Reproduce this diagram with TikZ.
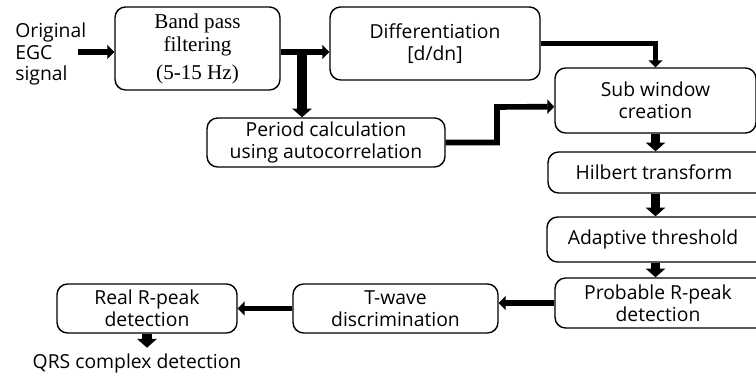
\documentclass[tikz,border=0pt]{standalone}
\usepackage{fontspec}
\setmainfont{Liberation Serif}
\setsansfont{Open Sans}
\usetikzlibrary{arrows.meta}

\begin{document}
\begin{tikzpicture}[x=0.02cm, y=-0.02cm,
        block/.style={draw, rounded corners=6pt, line width=0.8pt, align=center, inner sep=0pt,
            font=\sffamily\fontsize{11}{12.5}\selectfont},
        conn/.style={line width=3.2pt, -{Triangle[length=4pt, width=8pt]}},
        vconn/.style={line width=5.5pt, -{Triangle[length=5pt, width=11pt]}}]
        \useasboundingbox (0,0) rectangle (756,374);
        \clip (0,0) rectangle (756,374);

        \node[align=left, anchor=west, inner sep=0pt, font=\sffamily\fontsize{11}{12}\selectfont] (sig) at (15,54) {Original\\EGC\\signal};
        \node[block, minimum width=3.3cm, minimum height=1.66cm, font=\rmfamily\fontsize{12}{13.5}\selectfont] (band) at (197.5,48.5) {Band pass\\filtering\\[2pt](5-15 Hz)};
        \node[block, minimum width=4.2cm, minimum height=1.46cm] (diff) at (435,43.5) {Differentiation\\{}[d/dn]};
        \node[block, minimum width=4.76cm, minimum height=0.98cm] (period) at (326,142.5) {Period calculation\\using autocorrelation};
        \node[block, minimum width=4.02cm, minimum height=1.3cm] (sub) at (655.5,100.5) {Sub window\\creation};
        % the next three run past the right edge
        \node[block, minimum width=4.84cm, minimum height=0.82cm] (hilbert) at (669,172.5) {\mbox{Hilbert transform\hspace{0.6cm}}};
        \node[block, minimum width=4.86cm, minimum height=0.9cm] (adapt) at (668.5,239.5) {\mbox{Adaptive threshold\hspace{0.62cm}}};
        \node[block, minimum width=4.7cm, minimum height=1.0cm] (prob) at (672.5,303) {\mbox{Probable R-peak\hspace{0.58cm}}\\\mbox{detection\hspace{0.58cm}}};
        \node[block, minimum width=4.1cm, minimum height=0.98cm] (twave) at (395.5,308.5) {T-wave\\discrimination};
        \node[block, minimum width=3.6cm, minimum height=0.98cm] (real) at (147,308.5) {Real R-peak\\detection};
        \node[inner sep=3pt, font=\sffamily\fontsize{11}{12.5}\selectfont] (qrs) at (137,363) {QRS complex detection};

        \coordinate (sigout) at (78,52);
        \coordinate (split) at (302,52);
        \coordinate (riser) at (497,0);

        \draw[conn] (sigout) -- (sigout -| band.west);
        \draw[conn] (band.east |- sigout) -- (diff.west |- sigout);
        \draw[vconn] (split) -- (split |- period.north);
        \draw[conn] (diff.east) -| (sub.north);
        \draw[conn] (period.east) -| (riser |- 0,107) -- ([yshift=-3.5pt]sub.west);
        \draw[vconn] (sub.south) -- (sub.south |- hilbert.north);
        \draw[vconn] (sub.south |- hilbert.south) -- (sub.south |- adapt.north);
        \draw[vconn] (sub.south |- adapt.south) -- (sub.south |- prob.north);
        \draw[conn] (prob.west) -- (prob.west -| twave.east);
        \draw[conn] (twave.west) -- (real.east);
        \draw[vconn] (real.south) -- (real.south |- qrs.north);
\end{tikzpicture}
\end{document}
